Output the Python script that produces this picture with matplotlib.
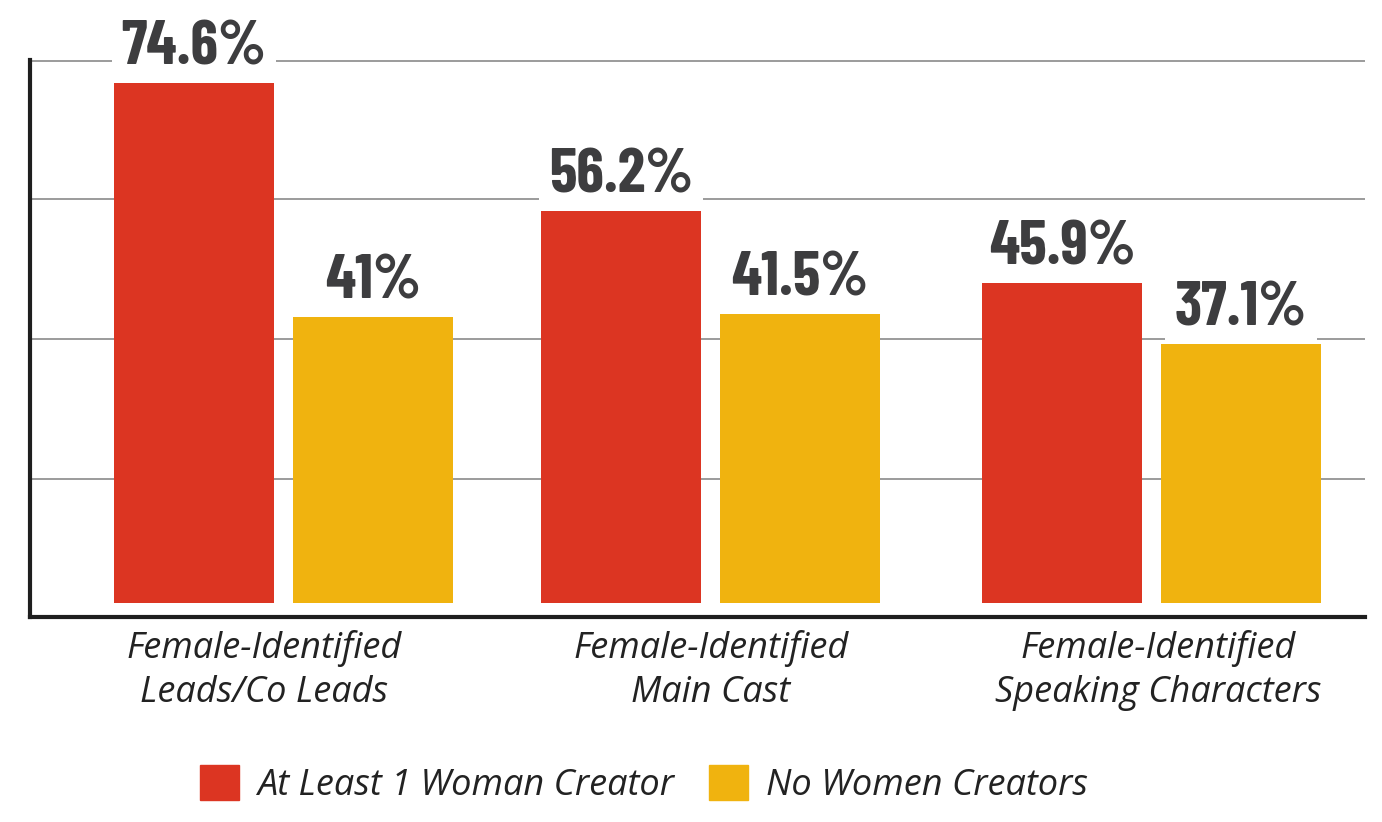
import matplotlib
matplotlib.use("Agg")
import matplotlib.pyplot as plt
from matplotlib.patches import Patch

categories = ["Female-Identified\nLeads/Co Leads",
              "Female-Identified\nMain Cast",
              "Female-Identified\nSpeaking Characters"]
series_names = ["At Least 1 Woman Creator", "No Women Creators"]
with_women = [74.6, 56.2, 45.9]
no_women = [41.0, 41.5, 37.1]
value_labels_with = ["74.6%", "56.2%", "45.9%"]
value_labels_no = ["41%", "41.5%", "37.1%"]

RED = "#dc3522"
YELLOW = "#f0b30f"
LABEL_FONT = ["Barlow Condensed", "Roboto Condensed", "Liberation Sans Narrow", "DejaVu Sans"]
TEXT_FONT = ["Open Sans", "DejaVu Sans"]

fig = plt.figure(figsize=(13.82, 8.22), dpi=100)
ax = fig.add_axes([30 / 1382, 1 - 617 / 822, 1335 / 1382, 557 / 822])

# group centres in pixel-like x units
centers = [283.5, 710.5, 1151.5]
label_x = [264, 711, 1158]
width = 160
off = 89.5

ax.set_xlim(30, 1365)
ax.set_ylim(-2.0, 77.9)

for i, c in enumerate(centers):
    ax.bar(c - off, with_women[i], width=width, color=RED, zorder=2)
    ax.bar(c + off, no_women[i], width=width, color=YELLOW, zorder=2)
    for x, v, s in [(c - off, with_women[i], value_labels_with[i]),
                    (c + off, no_women[i], value_labels_no[i])]:
        ax.text(x, v + 1.1, s, ha="center", va="bottom", fontsize=45,
                fontweight="bold", color="#3d3d3f", family=LABEL_FONT,
                zorder=1.5,
                bbox=dict(facecolor="white", edgecolor="none", pad=7))
    ax.text(label_x[i], -3.9, categories[i], ha="center", va="top", fontsize=26,
            style="italic", color="#222222", family=TEXT_FONT,
            linespacing=1.3)

ax.set_yticks([17.8, 37.9, 58.0, 77.7])
ax.yaxis.grid(True, color="#8a8a8a", linewidth=1.2, zorder=0)
ax.set_axisbelow(True)
ax.tick_params(left=False, bottom=False, labelleft=False, labelbottom=False)
ax.set_xticks([])
for side in ["top", "right"]:
    ax.spines[side].set_visible(False)
ax.spines["left"].set_linewidth(3)
ax.spines["bottom"].set_linewidth(3)
ax.spines["left"].set_color("#1e1e1e")
ax.spines["bottom"].set_color("#1e1e1e")

handles = [Patch(color=RED), Patch(color=YELLOW)]
fig.legend(handles, series_names, loc="center", bbox_to_anchor=(0.466, 0.046),
           ncol=2, frameon=False, handlelength=1.1, handleheight=1.15,
           handletextpad=0.5, columnspacing=0.95,
           prop=dict(family=TEXT_FONT, style="italic", size=26))
for t in fig.legends[0].get_texts():
    t.set_color("#222222")

fig.savefig("out.png", dpi=100)
